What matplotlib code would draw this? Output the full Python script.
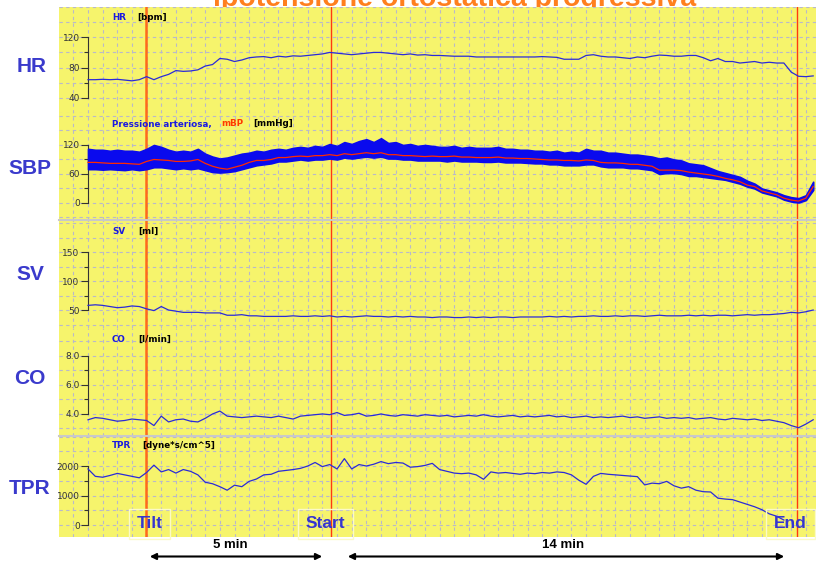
import numpy as np
import matplotlib
matplotlib.use("Agg")
import matplotlib.pyplot as plt
from matplotlib.ticker import MultipleLocator, FixedLocator, FormatStrFormatter
from matplotlib.patches import FancyArrowPatch

# time axis: one sample every 10 s from the start of the recording
t = np.arange(0, 1000, 10)

# events (seconds)
event_names = ["Tilt", "Start", "End"]
event_times = [79, 332, 968]

hr = [64, 64, 64.5, 64, 64.5, 63.5, 62.5, 64, 68, 64,
      68, 71, 76, 75, 75.5, 77, 82, 84, 92, 91,
      88, 90, 93, 94, 94.5, 93, 95, 94, 95.5, 95,
      96, 97, 98, 100, 99, 98, 97, 98, 99, 100,
      100, 99, 98, 97, 98, 96.5, 97, 96, 96, 95.5,
      95, 95, 95, 94, 94, 94, 94, 94, 94, 94,
      94, 94, 94.5, 94, 93.5, 91, 91, 91, 96, 97,
      95, 94, 94, 93, 92, 94, 93, 95, 96.5, 96,
      95, 95, 96, 96, 93, 89, 92, 88, 88, 86,
      87, 88, 86, 87, 86, 86, 74, 68.5, 68, 69]

sbp_sys = [112, 110, 110, 108, 110, 108, 108, 106, 112, 120,
           116, 110, 106, 108, 106, 112, 102, 96, 92, 94,
           98, 102, 104, 108, 106, 110, 112, 110, 114, 116,
           114, 118, 116, 122, 118, 126, 122, 128, 132, 126,
           134, 124, 126, 120, 122, 118, 120, 118, 116, 116,
           118, 114, 116, 114, 114, 114, 116, 112, 112, 110,
           110, 108, 108, 106, 108, 104, 106, 104, 112, 108,
           108, 104, 104, 102, 100, 100, 98, 96, 92, 94,
           90, 88, 82, 80, 78, 72, 66, 62, 58, 54,
           46, 40, 30, 26, 22, 16, 12, 10, 16, 44]
sbp_dia = [70, 70, 69, 70, 69, 68, 70, 68, 70, 74,
           74, 72, 70, 72, 70, 72, 68, 64, 63, 64,
           66, 70, 74, 78, 80, 82, 86, 86, 88, 90,
           88, 90, 90, 92, 90, 94, 92, 94, 96, 94,
           96, 92, 92, 90, 90, 88, 88, 88, 88, 86,
           88, 86, 86, 86, 85, 85, 86, 84, 84, 84,
           83, 82, 82, 80, 80, 78, 78, 78, 80, 80,
           76, 74, 74, 74, 72, 72, 70, 68, 60, 62,
           62, 60, 56, 56, 54, 52, 50, 48, 44, 40,
           34, 30, 22, 18, 14, 7, 3, 1, 6, 27]
sbp_mean = [84, 84, 83, 82, 82, 82, 81, 80, 86, 90,
            89, 88, 86, 86, 87, 90, 82, 76, 72, 70,
            74, 78, 84, 88, 88, 90, 94, 94, 96, 97,
            96, 98, 98, 100, 98, 102, 100, 102, 104, 102,
            104, 100, 100, 98, 98, 97, 96, 97, 96, 96,
            97, 95, 95, 94, 94, 94, 95, 93, 93, 92,
            92, 91, 90, 89, 89, 88, 88, 87, 89, 88,
            84, 83, 83, 82, 80, 80, 78, 76, 68, 68,
            68, 67, 64, 62, 60, 58, 55, 51, 48, 44,
            37, 34, 25, 21, 17, 10, 6, 4, 10, 34]

sv = [58, 59, 58, 56, 54, 55, 57, 56, 52, 49,
      56, 50, 48, 46, 46, 46, 45, 45, 45, 41,
      41, 42, 40, 40, 39, 39, 39, 39, 40, 39,
      39, 40, 39, 40, 38, 39, 38, 39, 40, 39,
      39, 38, 39, 38, 39, 38, 38, 37, 38, 38,
      37, 37, 38, 37, 38, 37, 38, 38, 37, 38,
      38, 38, 38, 39, 38, 39, 38, 39, 39, 40,
      39, 39, 40, 39, 40, 40, 39, 40, 41, 40,
      40, 40, 41, 40, 41, 40, 41, 41, 40, 41,
      42, 41, 42, 42, 43, 44, 46, 45, 47, 50]

co = [3.6, 3.75, 3.7, 3.6, 3.5, 3.55, 3.65, 3.6, 3.55, 3.2,
      3.85, 3.45, 3.6, 3.65, 3.5, 3.45, 3.7, 4.0, 4.2, 3.85,
      3.8, 3.75, 3.8, 3.85, 3.8, 3.75, 3.85, 3.75, 3.65, 3.85,
      3.9, 3.95, 4.0, 3.95, 4.1, 3.9, 3.95, 4.05, 3.85, 3.9,
      4.0, 3.9, 3.85, 3.95, 3.9, 3.85, 3.95, 3.9, 3.85, 3.9,
      3.8, 3.85, 3.9, 3.85, 3.95, 3.85, 3.8, 3.85, 3.9, 3.8,
      3.85, 3.8, 3.85, 3.9, 3.8, 3.85, 3.75, 3.8, 3.85, 3.75,
      3.8, 3.75, 3.8, 3.85, 3.75, 3.8, 3.7, 3.75, 3.8, 3.7,
      3.75, 3.7, 3.75, 3.65, 3.7, 3.75, 3.65, 3.6, 3.7, 3.65,
      3.6, 3.65, 3.55, 3.6, 3.5, 3.4, 3.2, 3.05, 3.3, 3.6]

tpr = [1900, 1650, 1620, 1680, 1750, 1700, 1650, 1600, 1780, 2030,
       1800, 1880, 1760, 1880, 1820, 1700, 1450, 1400, 1300, 1180,
       1350, 1300, 1480, 1560, 1700, 1720, 1820, 1850, 1880, 1920,
       2000, 2120, 1980, 2050, 1900, 2250, 1900, 2050, 2000, 2060,
       2150, 2080, 2120, 2100, 1960, 1980, 2020, 2090, 1880, 1820,
       1760, 1740, 1760, 1700, 1550, 1800, 1760, 1780, 1750, 1720,
       1760, 1740, 1780, 1760, 1800, 1780, 1700, 1520, 1380, 1650,
       1750, 1720, 1700, 1680, 1660, 1640, 1360, 1420, 1400, 1480,
       1330, 1250, 1300, 1180, 1130, 1120, 910, 880, 860, 780,
       700, 620, 520, 380, 300, 170, np.nan, np.nan, np.nan, 450]

W, H = 816, 563
fig = plt.figure(figsize=(8.16, 5.63), dpi=100)
fig.patch.set_facecolor("white")

YELLOW = "#f6f46c"
TRACE = "#2a2ad8"
LBL = "#3a3acc"
GRID = "#b9b9c9"


def fx(x):
    return x / W


def fy(y):
    return 1 - y / H


# x-axis: 0.7325 px per second, spine (t=0) at x=88 px
xmin = (59 - 88) / 0.7325
xmax = (816 - 88) / 0.7325

# panel: top px, bottom px, ylim, labelled ticks, grid step
panels = [
    (7, 113, (20, 160), [40, 80, 120], 20),
    (113, 220, (-35.2, 186.2), [0, 60, 120], 30),
    (220, 328, (19.0, 205.2), [50, 100, 150], 25),
    (328, 436, (2.48, 9.93), [4.0, 6.0, 8.0], 1.0),
    (436, 537, (-405, 3017), [0, 1000, 2000], 500),
]

axes = []
for top, bot, ylim, ticks, step in panels:
    ax = fig.add_axes([fx(59), fy(bot), fx(816) - fx(59), (bot - top) / H])
    ax.set_facecolor(YELLOW)
    ax.set_xlim(xmin, xmax)
    ax.set_ylim(*ylim)
    ax.yaxis.set_major_locator(FixedLocator(ticks))
    ax.yaxis.set_minor_locator(FixedLocator([ticks[0] + step, ticks[1] + step]))
    ax.xaxis.set_major_locator(MultipleLocator(20))
    ax.grid(True, axis="x", color=GRID, ls=(0, (3, 3)), lw=0.8)
    k0 = int(np.ceil((ylim[0] - ticks[0]) / step))
    k1 = int(np.floor((ylim[1] - ticks[0]) / step))
    for k in range(k0, k1 + 1):
        ax.axhline(ticks[0] + k * step, color=GRID, ls=(0, (3, 3)), lw=0.8, zorder=0.5)
    ax.set_axisbelow(True)
    ax.tick_params(axis="x", which="both", bottom=False, labelbottom=False)
    ax.tick_params(axis="y", which="major", length=5, width=0.8, pad=1,
                   labelsize=6.5, labelcolor="#333333", color="#333333")
    ax.tick_params(axis="y", which="minor", length=3, width=0.8, color="#333333")
    for s in ["top", "right", "bottom"]:
        ax.spines[s].set_visible(False)
    ax.spines["left"].set_position(("data", 0))
    ax.spines["left"].set_bounds(ticks[0], ticks[-1])
    ax.spines["left"].set_color("#333333")
    for et, name in zip(event_times, event_names):
        if name == "Tilt":
            ax.axvline(et, color="#ff6a1a", lw=1.8, zorder=3)
        else:
            ax.axvline(et, color="#ff3a10", lw=1.0, zorder=3)
    axes.append(ax)

ax_hr, ax_bp, ax_sv, ax_co, ax_tpr = axes
ax_co.yaxis.set_major_formatter(FormatStrFormatter("%.1f"))

# panel separators
for y in [220, 436]:
    fig.add_artist(plt.Line2D([fx(59), 1], [fy(y), fy(y)], color="#c9c9c9", lw=1.5, zorder=0.5))

ax_hr.plot(t, hr, color=TRACE, lw=0.9, zorder=4)
ax_bp.fill_between(t, sbp_dia, sbp_sys, color="#0a0aee", lw=1.2, edgecolor="#0a0aee", zorder=4)
ax_bp.plot(t, sbp_mean, color="#ff2a00", lw=0.9, zorder=5)
ax_sv.plot(t, sv, color=TRACE, lw=0.9, zorder=4)
ax_co.plot(t, co, color=TRACE, lw=0.9, zorder=4)
ax_tpr.plot(t, tpr, color=TRACE, lw=0.9, zorder=4)

# title (cut off by the top of the image, lower part hidden by the chart)
fig.text(fx(455), fy(6), "ipotensione ortostatica progressiva", color="#ff7f1e",
         fontsize=20.5, fontweight="bold", family="Liberation Sans",
         ha="center", va="baseline", zorder=-1)

# big labels on the left
for name, x, y in [("HR", 32, 66), ("SBP", 30, 168), ("SV", 30, 275),
                   ("CO", 30, 378), ("TPR", 30, 488)]:
    fig.text(fx(x), fy(y), name, color=LBL, fontsize=15, fontweight="bold",
             family="Liberation Sans", ha="center", va="center")

# small headers inside panels
small = dict(fontsize=6.3, fontweight="bold", va="center")
for pieces, y in [
    ([("HR", 112, "#1a1ae0"), ("[bpm]", 137, "black")], 17),
    ([("Pressione arteriosa,", 112, "#1a1ae0"), ("mBP", 221, "#ff3a00"), ("[mmHg]", 253, "black")], 124),
    ([("SV", 112, "#1a1ae0"), ("[ml]", 138, "black")], 231),
    ([("CO", 112, "#1a1ae0"), ("[l/min]", 138, "black")], 339),
    ([("TPR", 112, "#1a1ae0"), ("[dyne*s/cm^5]", 142, "black")], 446),
]:
    for txt, x, c in pieces:
        fig.text(fx(x), fy(y), txt, color=c, **small)

# event labels at the bottom
for name, x in [("Tilt", 149.5), ("Start", 325.5), ("End", 790.5)]:
    fig.text(fx(x), fy(524), name, color="#3535d0", fontsize=12.5, fontweight="bold",
             family="Liberation Sans", ha="center", va="center",
             bbox=dict(boxstyle="square,pad=0.45", fc="none", ec="#fbfac8", lw=1))

# durations
for label, x0, x1, xc in [("5 min", 147, 325, 230), ("14 min", 345, 787, 563)]:
    fig.text(fx(xc), fy(545), label, fontsize=9.5, fontweight="bold",
             family="Liberation Sans", ha="center", va="center")
    fig.add_artist(FancyArrowPatch(
        (fx(x0), fy(556.5)), (fx(x1), fy(556.5)), transform=fig.transFigure,
        arrowstyle="<|-|>", mutation_scale=9, color="black", lw=1.5))

fig.savefig("out.png", dpi=100)
